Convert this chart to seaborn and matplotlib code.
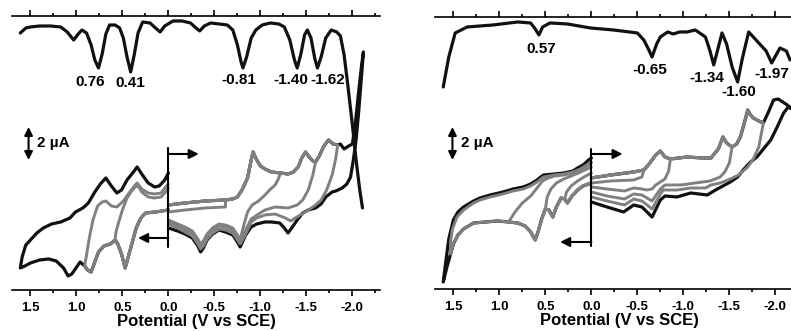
import matplotlib
matplotlib.use("Agg")
import matplotlib.pyplot as plt
import seaborn as sns
from matplotlib.ticker import MultipleLocator, FuncFormatter

# Potential in V vs SCE, current as vertical offset (33 units = 2 uA)

# ---------------- left compound ----------------
left_dpv = [(1.61, 257), (1.55, 262), (1.50, 263), (1.40, 264), (1.28, 264), (1.17, 263), (1.10, 258),
            (1.03, 250), (0.98, 256), (0.94, 260), (0.89, 257), (0.84, 245), (0.80, 230), (0.76, 222),
            (0.72, 236), (0.68, 256), (0.64, 265), (0.58, 265), (0.53, 262), (0.49, 252), (0.45, 233),
            (0.41, 218), (0.37, 236), (0.33, 257), (0.28, 268), (0.20, 267), (0.14, 262), (0.09, 258),
            (0.04, 264), (-0.05, 269), (-0.15, 269), (-0.24, 267), (-0.30, 262), (-0.34, 259), (-0.39, 264),
            (-0.46, 267), (-0.55, 266), (-0.64, 265), (-0.70, 260), (-0.75, 245), (-0.79, 228), (-0.81, 222),
            (-0.85, 233), (-0.90, 252), (-0.95, 260), (-1.02, 265), (-1.11, 267), (-1.20, 266), (-1.26, 263),
            (-1.32, 250), (-1.37, 230), (-1.40, 222), (-1.44, 236), (-1.48, 255), (-1.51, 260), (-1.55, 252),
            (-1.59, 232), (-1.62, 222), (-1.66, 233), (-1.71, 252), (-1.77, 260), (-1.83, 258), (-1.87, 254),
            (-1.91, 235), (-1.95, 205), (-2.00, 165), (-2.04, 130), (-2.08, 100), (-2.11, 82)]
left_peaks = ["0.76", "0.41", "-0.81", "-1.40", "-1.62"]

# oxidative sweep (shared start) and the reverse scans
left_fwd_pos = [(0.00, 80), (0.14, 78), (0.25, 77), (0.30, 72), (0.35, 62), (0.41, 42), (0.47, 22),
                (0.51, 36), (0.55, 46), (0.58, 50), (0.63, 46), (0.70, 44), (0.76, 38), (0.80, 28),
                (0.84, 18), (0.88, 20), (0.91, 24), (0.96, 28), (0.99, 24), (1.05, 16), (1.09, 14),
                (1.14, 22), (1.22, 29), (1.30, 31), (1.40, 30), (1.50, 27), (1.56, 24), (1.61, 22)]
left_ret_pos_gray = [
    [(0.58, 50), (0.57, 58), (0.54, 68), (0.50, 80), (0.45, 92), (0.40, 99), (0.36, 103), (0.33, 104),
     (0.29, 98), (0.22, 93), (0.15, 92), (0.08, 93), (0.03, 98), (0.00, 102)],
    [(0.91, 24), (0.89, 35), (0.86, 52), (0.82, 70), (0.77, 84), (0.72, 88), (0.68, 89), (0.62, 84),
     (0.56, 83), (0.49, 89), (0.42, 98), (0.37, 104), (0.34, 107), (0.29, 101), (0.22, 97), (0.15, 96),
     (0.08, 97), (0.03, 103), (0.00, 106)],
]
left_ret_pos_black = [(1.61, 22), (1.59, 33), (1.55, 45), (1.50, 50), (1.43, 57), (1.36, 62), (1.27, 66),
                      (1.17, 68), (1.07, 72), (1.01, 78), (0.93, 82), (0.87, 87), (0.80, 98), (0.74, 106),
                      (0.68, 112), (0.62, 104), (0.56, 97), (0.51, 100), (0.45, 110), (0.38, 118),
                      (0.34, 123), (0.29, 116), (0.22, 107), (0.15, 103), (0.10, 104), (0.04, 110), (0.00, 117)]

left_fwd_neg = [(0.00, 85), (-0.18, 87), (-0.40, 89), (-0.62, 90), (-0.70, 91), (-0.75, 93), (-0.80, 100),
                (-0.86, 112), (-0.90, 130), (-0.92, 138), (-0.96, 130), (-1.00, 124), (-1.05, 121),
                (-1.12, 118), (-1.22, 117), (-1.30, 116), (-1.36, 118), (-1.41, 123), (-1.45, 132),
                (-1.49, 138), (-1.53, 133), (-1.57, 129), (-1.60, 128), (-1.64, 134), (-1.69, 144),
                (-1.74, 150), (-1.79, 146), (-1.84, 145), (-1.87, 146), (-1.91, 141), (-1.96, 144),
                (-2.00, 146), (-2.03, 165), (-2.07, 200), (-2.10, 225), (-2.12, 238)]
left_ret_neg_gray = [
    [(-0.62, 90), (-0.62, 83), (-0.40, 82), (-0.18, 80), (0.00, 78)],
    [(-1.22, 117), (-1.19, 110), (-1.16, 105), (-1.10, 100), (-1.05, 95), (-0.98, 89), (-0.91, 85),
     (-0.86, 78), (-0.82, 65), (-0.79, 54), (-0.78, 51), (-0.75, 55), (-0.70, 62), (-0.62, 65),
     (-0.55, 66), (-0.48, 62), (-0.42, 56), (-0.38, 49), (-0.35, 46), (-0.32, 51), (-0.26, 59),
     (-0.18, 63), (-0.10, 66), (0.00, 70)],
    [(-1.60, 128), (-1.57, 115), (-1.52, 100), (-1.46, 90), (-1.40, 85), (-1.30, 82), (-1.16, 83),
     (-1.05, 80), (-0.98, 76), (-0.90, 71), (-0.85, 62), (-0.80, 52), (-0.78, 49), (-0.75, 53),
     (-0.70, 60), (-0.62, 63), (-0.55, 64), (-0.48, 60), (-0.42, 54), (-0.38, 47), (-0.35, 44),
     (-0.32, 49), (-0.26, 57), (-0.18, 61), (-0.10, 64), (0.00, 68)],
    [(-1.84, 145), (-1.82, 132), (-1.78, 115), (-1.72, 100), (-1.66, 90), (-1.60, 85), (-1.52, 80),
     (-1.45, 76), (-1.38, 72), (-1.33, 69), (-1.27, 72), (-1.16, 76), (-1.05, 75), (-0.96, 72),
     (-0.90, 68), (-0.85, 58), (-0.80, 49), (-0.78, 46), (-0.75, 50), (-0.70, 57), (-0.62, 60),
     (-0.55, 61), (-0.48, 57), (-0.42, 51), (-0.38, 44), (-0.35, 41), (-0.32, 46), (-0.26, 54),
     (-0.18, 58), (-0.10, 62), (0.00, 66)],
]
left_ret_neg_black = [(-2.12, 238), (-2.10, 215), (-2.07, 180), (-2.04, 150), (-2.01, 130), (-1.98, 113),
                      (-1.94, 106), (-1.89, 102), (-1.82, 99), (-1.78, 98), (-1.71, 93), (-1.66, 86),
                      (-1.60, 82), (-1.52, 80), (-1.46, 77), (-1.40, 70), (-1.34, 62), (-1.30, 57),
                      (-1.26, 62), (-1.21, 67), (-1.12, 68), (-1.05, 68), (-0.96, 66), (-0.90, 63),
                      (-0.84, 55), (-0.80, 47), (-0.78, 43), (-0.75, 48), (-0.70, 55), (-0.62, 58),
                      (-0.55, 60), (-0.48, 56), (-0.42, 50), (-0.38, 42), (-0.35, 38), (-0.32, 44),
                      (-0.26, 52), (-0.18, 56), (-0.10, 59), (0.00, 62)]

# ---------------- right compound ----------------
right_dpv = [(1.61, 202), (1.55, 232), (1.48, 256), (1.35, 262), (1.07, 264), (0.80, 267), (0.66, 266),
             (0.61, 260), (0.57, 254), (0.53, 262), (0.45, 266), (0.26, 265), (0.01, 261), (-0.24, 259),
             (-0.50, 256), (-0.57, 249), (-0.62, 240), (-0.66, 232), (-0.71, 245), (-0.75, 252),
             (-0.83, 257), (-0.89, 255), (-0.96, 257), (-1.04, 257), (-1.13, 259), (-1.24, 252),
             (-1.29, 238), (-1.33, 224), (-1.37, 238), (-1.42, 256), (-1.47, 245), (-1.53, 222),
             (-1.59, 207), (-1.64, 230), (-1.71, 257), (-1.82, 246), (-1.90, 238), (-1.96, 226),
             (-2.05, 241), (-2.12, 238), (-2.16, 229)]
right_peaks = ["0.57", "-0.65", "-1.34", "-1.60", "-1.97"]

right_fwd_pos = [(0.00, 106), (0.09, 103), (0.15, 99), (0.21, 93), (0.26, 86), (0.29, 90), (0.33, 91),
                 (0.38, 82), (0.42, 72), (0.46, 79), (0.50, 80), (0.54, 70), (0.58, 57), (0.61, 49),
                 (0.66, 57), (0.72, 63), (0.80, 66), (0.90, 67), (1.02, 68), (1.15, 67), (1.28, 66),
                 (1.39, 60), (1.45, 54), (1.50, 45), (1.53, 35), (1.57, 22), (1.61, 7)]
right_ret_pos_gray = [
    [(0.29, 90), (0.27, 97), (0.22, 103), (0.15, 108), (0.08, 112), (0.00, 116)],
    [(0.50, 80), (0.48, 92), (0.44, 100), (0.38, 106), (0.30, 110), (0.22, 113), (0.14, 116), (0.07, 119),
     (0.00, 122)],
    [(0.90, 67), (0.83, 77), (0.75, 86), (0.66, 93), (0.59, 101), (0.53, 108), (0.47, 111), (0.40, 113),
     (0.30, 114), (0.20, 116), (0.12, 119), (0.05, 123), (0.00, 126)],
    [(1.53, 35), (1.53, 48), (1.51, 60), (1.46, 72), (1.39, 79), (1.28, 86), (1.21, 89), (1.10, 92),
     (0.96, 95), (0.85, 98), (0.74, 100), (0.66, 103), (0.59, 107), (0.52, 112), (0.40, 114), (0.30, 115),
     (0.20, 117), (0.12, 120), (0.05, 124), (0.00, 127)],
]
right_ret_pos_black = [(1.61, 7), (1.59, 22), (1.55, 50), (1.50, 69), (1.45, 77), (1.39, 82), (1.28, 88),
                       (1.21, 91), (1.10, 94), (0.96, 97), (0.85, 100), (0.74, 102), (0.66, 105), (0.59, 109),
                       (0.55, 112), (0.52, 114), (0.40, 115), (0.30, 116), (0.20, 118), (0.15, 121),
                       (0.09, 124), (0.03, 129), (0.00, 131)]

right_fwd_neg = [(0.00, 111), (-0.21, 114), (-0.46, 117), (-0.57, 119), (-0.62, 124), (-0.70, 134),
                 (-0.75, 138), (-0.80, 132), (-0.86, 130), (-1.04, 132), (-1.20, 131), (-1.30, 131),
                 (-1.38, 140), (-1.43, 152), (-1.47, 146), (-1.53, 142), (-1.58, 145), (-1.62, 152),
                 (-1.66, 165), (-1.70, 179), (-1.73, 174), (-1.76, 171), (-1.82, 168), (-1.87, 166),
                 (-1.93, 178), (-1.98, 189), (-2.03, 190), (-2.08, 187), (-2.13, 184), (-2.18, 180)]
right_ret_neg_gray = [
    [(-0.57, 119), (-0.55, 112), (-0.46, 109), (-0.21, 108), (0.00, 106)],
    [(-0.86, 130), (-0.84, 118), (-0.80, 110), (-0.75, 107), (-0.70, 104), (-0.66, 100), (-0.60, 99),
     (-0.55, 100), (-0.46, 101), (-0.36, 98), (-0.17, 100), (0.00, 102)],
    [(-1.53, 142), (-1.50, 126), (-1.45, 117), (-1.40, 112), (-1.29, 108), (-1.13, 106), (-0.97, 104),
     (-0.80, 104), (-0.75, 100), (-0.66, 88), (-0.55, 94), (-0.46, 95), (-0.36, 90), (-0.17, 93),
     (0.00, 97)],
    [(-1.87, 166), (-1.82, 142), (-1.76, 130), (-1.70, 122), (-1.60, 114), (-1.51, 110), (-1.40, 106),
     (-1.30, 104), (-1.24, 101), (-1.08, 101), (-0.93, 99), (-0.78, 99), (-0.75, 95), (-0.66, 80),
     (-0.55, 88), (-0.46, 90), (-0.36, 84), (-0.17, 88), (0.00, 92)],
]
right_ret_neg_black = [(-2.18, 180), (-2.14, 182), (-2.09, 176), (-2.02, 162), (-1.95, 149), (-1.87, 140),
                       (-1.80, 132), (-1.73, 127), (-1.65, 119), (-1.59, 112), (-1.51, 107), (-1.43, 103),
                       (-1.35, 99), (-1.26, 94), (-1.08, 96), (-0.93, 92), (-0.80, 93), (-0.75, 89),
                       (-0.66, 72), (-0.55, 82), (-0.46, 84), (-0.35, 77), (-0.17, 82), (0.00, 87)]

BLACK = "#111111"
GRAY = "#808080"

sns.set_theme(style="white")
plt.rcParams["font.family"] = ["Liberation Sans", "DejaVu Sans"]
plt.rcParams["font.weight"] = "bold"
plt.rcParams["axes.unicode_minus"] = False


def trace(ax, pts, color, lw=2.1):
    v, i = zip(*pts)
    sns.lineplot(x=list(v), y=list(i), sort=False, estimator=None, color=color, lw=lw, ax=ax)


def loop(fwd, ret, side):
    turn = ret[0][0]
    if side > 0:
        head = [p for p in fwd if p[0] <= turn]
    else:
        head = [p for p in fwd if p[0] >= turn]
    return head + ret


def panel(ax, dpv, fwd_pos, ret_pos_gray, ret_pos_black, fwd_neg, ret_neg_gray, ret_neg_black):
    # black scans underneath, gray scans on top
    trace(ax, fwd_pos + ret_pos_black, BLACK, 2.3)
    trace(ax, fwd_neg + ret_neg_black, BLACK, 2.3)
    for r in ret_pos_gray:
        trace(ax, loop(fwd_pos, r, 1), GRAY)
    for r in ret_neg_gray:
        trace(ax, loop(fwd_neg, r, -1), GRAY)
    trace(ax, dpv, BLACK, 2.3)


def style(ax, top_h, bar_x, bar_lo, bar_hi, start_lo, start_hi, arr_hi, arr_lo, arr_len):
    ax.set_xlim(1.70, -2.30)
    ax.set_ylim(0, top_h)
    ax.set_yticks([])
    for s in ["left", "right"]:
        ax.spines[s].set_visible(False)
    for s in ["top", "bottom"]:
        ax.spines[s].set_color("black")
        ax.spines[s].set_linewidth(1.2)
    ax.xaxis.set_major_locator(MultipleLocator(0.5))
    ax.xaxis.set_minor_locator(MultipleLocator(0.25))
    ax.xaxis.set_major_formatter(FuncFormatter(lambda x, p: f"{x:.1f}".replace("-0.0", "0.0")))
    ax.tick_params(axis="x", which="both", direction="out", top=True, bottom=True, labeltop=False,
                   width=1.2, colors="black", labelsize=9.5, pad=4.5)
    ax.tick_params(axis="x", which="major", length=4)
    ax.tick_params(axis="x", which="minor", length=2.2)
    for t in ax.get_xticklabels():
        t.set_fontweight("bold")
    ax.set_xlabel("Potential (V vs SCE)", fontsize=12, fontweight="bold", labelpad=0, color="black")
    ax.set_ylabel("")
    # 2 uA scale bar
    ax.annotate("", xy=(bar_x, bar_hi), xytext=(bar_x, bar_lo),
                arrowprops=dict(arrowstyle="<|-|>", color="black", lw=1.5, mutation_scale=12,
                                shrinkA=0, shrinkB=0))
    ax.text(bar_x - 0.09, (bar_lo + bar_hi) / 2, "2 \u00b5A", ha="left", va="center",
            fontsize=11, fontweight="bold", color="black")
    # starting potential marker and sweep-direction arrows
    ax.plot([0, 0], [start_lo, start_hi], color="black", lw=1.5)
    ax.annotate("", xy=(-arr_len, arr_hi), xytext=(0, arr_hi),
                arrowprops=dict(arrowstyle="-|>", color="black", lw=1.5, mutation_scale=14,
                                shrinkA=0, shrinkB=0))
    ax.annotate("", xy=(arr_len, arr_lo), xytext=(0, arr_lo),
                arrowprops=dict(arrowstyle="-|>", color="black", lw=1.5, mutation_scale=14,
                                shrinkA=0, shrinkB=0))


fig = plt.figure(figsize=(7.91, 3.31), dpi=100)
ax1 = fig.add_axes([0.0152, 0.1239, 0.4652, 0.8278])
ax2 = fig.add_axes([0.5499, 0.1269, 0.4652, 0.8218])

panel(ax1, left_dpv, left_fwd_pos, left_ret_pos_gray, left_ret_pos_black,
      left_fwd_neg, left_ret_neg_gray, left_ret_neg_black)
panel(ax2, right_dpv, right_fwd_pos, right_ret_pos_gray, right_ret_pos_black,
      right_fwd_neg, right_ret_neg_gray, right_ret_neg_black)

style(ax1, 274, 1.52, 130, 163, 43, 142, 136, 52, 0.33)
style(ax2, 272, 1.51, 129, 162, 43, 140, 135, 47, 0.34)

# peak labels on the DPV traces
for lab, x, y in zip(left_peaks, [0.85, 0.42, -0.77, -1.33, -1.73], [208, 207, 210, 210, 210]):
    ax1.text(x, y, lab, ha="center", va="center", fontsize=11, fontweight="bold", color="black")
for lab, x, y in zip(right_peaks, [0.54, -0.63, -1.25, -1.60, -1.96], [240, 219, 211, 197, 215]):
    ax2.text(x, y, lab, ha="center", va="center", fontsize=11, fontweight="bold", color="black")

fig.savefig("out.png", dpi=100)
